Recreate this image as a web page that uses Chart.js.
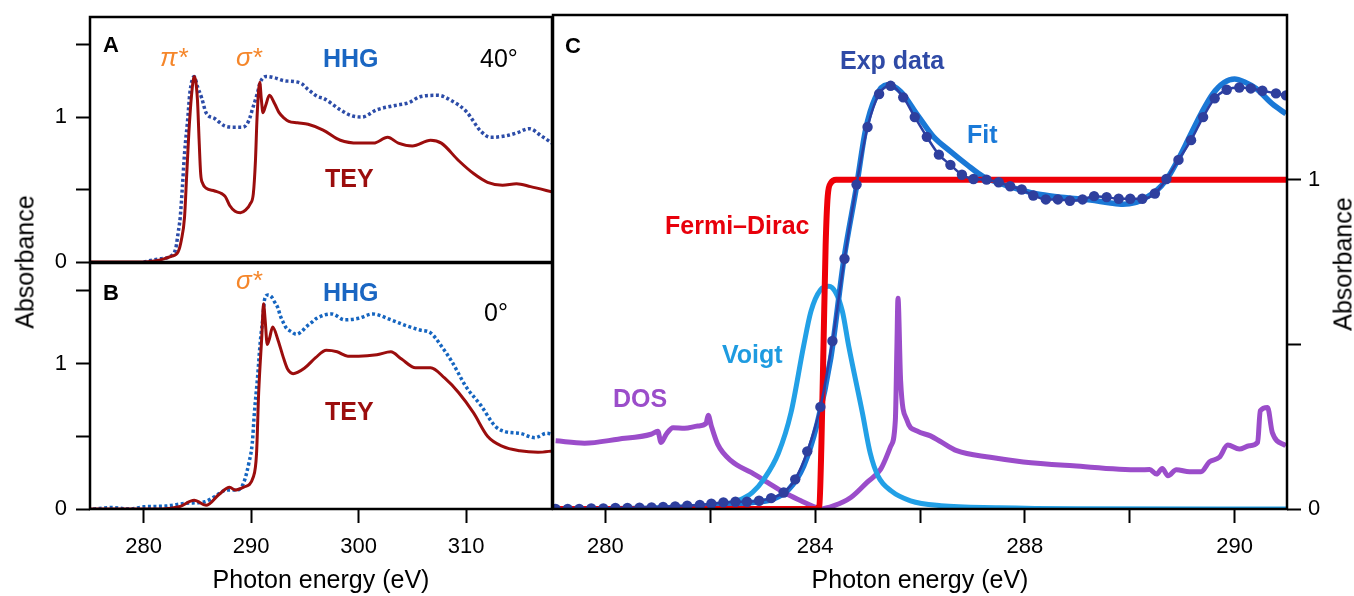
<!DOCTYPE html>
<html>
<head>
<meta charset="utf-8">
<script src="https://cdn.jsdelivr.net/npm/chart.js@4.4.1/dist/chart.umd.min.js"></script>
<style>
    body { margin: 0; background: #fff; width: 1354px; height: 596px; position: relative; overflow: hidden;
           font-family: "Liberation Sans", Arial, sans-serif; }
    canvas { position: absolute; }
    .lbl { position: absolute; line-height: 1; white-space: nowrap; transform: translateY(-50%); font-size: 25px; }
    .b { font-weight: bold; }
    .it { font-style: italic; color: #f5862a; font-size: 26px; }
    .ytitle { position: absolute; font-size: 25px; line-height: 1; white-space: nowrap;
              transform: translate(-50%, -50%) rotate(-90deg); }
</style>
</head>
<body>
<canvas id="chartA" width="553" height="290" style="left:0;top:0"></canvas>
<canvas id="chartB" width="553" height="356" style="left:0;top:240px"></canvas>
<canvas id="chartC" width="814" height="596" style="left:540px;top:0"></canvas>

<div class="ytitle" style="left:25px;top:262px">Absorbance</div>
<div class="ytitle" style="left:1343px;top:264px">Absorbance</div>

<!-- panel A labels -->
<div class="lbl b" style="left:103px;top:45px;font-size:22px">A</div>
<div class="lbl it" style="left:160px;top:57px">π*</div>
<div class="lbl it" style="left:236px;top:57px">σ*</div>
<div class="lbl b" style="left:323px;top:58px;color:#1a66c2">HHG</div>
<div class="lbl" style="left:480px;top:58px">40°</div>
<div class="lbl b" style="left:325px;top:178px;color:#9b0d0d">TEY</div>

<!-- panel B labels -->
<div class="lbl b" style="left:103px;top:293px;font-size:22px">B</div>
<div class="lbl it" style="left:236px;top:280px">σ*</div>
<div class="lbl b" style="left:323px;top:292px;color:#1a66c2">HHG</div>
<div class="lbl" style="left:484px;top:312px">0°</div>
<div class="lbl b" style="left:325px;top:411px;color:#9b0d0d">TEY</div>

<!-- panel C labels -->
<div class="lbl b" style="left:565px;top:46px;font-size:22px">C</div>
<div class="lbl b" style="left:840px;top:60px;color:#2f4aa6">Exp data</div>
<div class="lbl b" style="left:967px;top:134px;color:#1a7ad8">Fit</div>
<div class="lbl b" style="left:665px;top:225px;color:#e8000b">Fermi–Dirac</div>
<div class="lbl b" style="left:722px;top:354px;color:#1e9be0">Voigt</div>
<div class="lbl b" style="left:613px;top:398px;color:#9b4dca">DOS</div>

<script>
// ---- data: [photon energy, absorbance] ----
const aTey = [[275,0],[280,0],[280.8,0.005],[281.8,0.02],[282.6,0.04],[283.2,0.07],[283.5,0.15],[283.8,0.31],
    [284.0,0.6],[284.2,0.89],[284.45,1.15],[284.7,1.28],[285.0,1.12],[285.15,0.85],[285.3,0.61],[285.5,0.54],
    [285.8,0.51],[286.6,0.49],[287.3,0.47],[287.6,0.45],[288.0,0.39],[288.5,0.35],[289.0,0.34],[289.5,0.36],
    [289.9,0.4],[290.2,0.47],[290.4,0.7],[290.55,1.0],[290.8,1.24],[290.95,1.12],[291.1,1.03],[291.35,1.08],
    [291.7,1.15],[292.2,1.09],[292.6,1.03],[293.1,0.99],[293.5,0.97],[294.3,0.96],[295.3,0.95],[296.7,0.91],
    [298.3,0.84],[300,0.82],[301.4,0.82],[302.7,0.86],[303.7,0.82],[305,0.8],[306.7,0.84],[307.7,0.82],
    [309.3,0.7],[310.7,0.61],[312,0.55],[313.4,0.53],[314.7,0.54],[316,0.52],[318.2,0.48]];

const aHhg = [[280,0],[281.3,0.02],[282.7,0.05],[283.0,0.1],[283.2,0.2],[283.4,0.31],[283.6,0.52],[283.8,0.75],
    [284.1,0.99],[284.3,1.17],[284.7,1.28],[285.0,1.21],[285.4,1.13],[285.8,1.03],[286.6,0.99],[287.5,0.94],
    [288.3,0.93],[289.2,0.93],[289.6,0.95],[289.9,1.0],[290.1,1.05],[290.4,1.12],[290.6,1.17],[290.8,1.23],
    [291.1,1.27],[291.4,1.28],[292.2,1.27],[293.1,1.25],[294.0,1.245],[294.7,1.23],[295.3,1.19],[296.2,1.14],
    [296.7,1.13],[298.3,1.05],[299.3,1.01],[300.3,1.0],[301.7,1.05],[303.4,1.08],[304.7,1.1],[305.7,1.14],
    [307.4,1.15],[308.7,1.11],[310,1.04],[311.4,0.9],[312.3,0.86],[313.7,0.87],[314.7,0.89],[315.9,0.92],
    [317,0.87],[318.2,0.81]];

const bTey = [[275,0],[278.3,0],[281.7,0],[283.3,0.015],[284.7,0.06],[285.8,0.025],[287,0.1],[288,0.15],
    [288.5,0.13],[289.3,0.15],[290.2,0.22],[290.5,0.38],[290.7,0.8],[291.0,1.2],[291.15,1.41],[291.3,1.3],
    [291.5,1.13],[291.7,1.17],[292.0,1.25],[292.5,1.16],[293.0,1.04],[293.4,0.96],[293.9,0.93],[295,0.97],
    [296,1.04],[297,1.09],[298,1.08],[299,1.05],[300,1.05],[301.7,1.06],[303,1.08],[304,1.03],[305.3,0.97],
    [306.7,0.97],[308,0.9],[309.3,0.8],[310.7,0.66],[312,0.5],[313.4,0.43],[315,0.4],[316.7,0.39],[318.2,0.4]];

const bHhg = [[275.3,0],[277,0.01],[278.7,0],[280,0.015],[282,0.02],[284,0.04],[285.7,0.05],[286.7,0.09],
    [287.7,0.13],[288.7,0.13],[289.3,0.18],[289.8,0.32],[290.1,0.45],[290.3,0.66],[290.6,0.91],[290.85,1.15],
    [291.1,1.32],[291.25,1.44],[291.56,1.47],[291.87,1.46],[292.2,1.42],[292.5,1.38],[292.7,1.33],[293.0,1.28],
    [293.3,1.24],[293.7,1.22],[294.2,1.2],[294.7,1.22],[295.1,1.25],[295.6,1.28],[296.1,1.31],[297.5,1.34],
    [298.7,1.3],[300,1.31],[301.3,1.34],[303,1.3],[304.4,1.26],[305.7,1.23],[306.7,1.21],[307.7,1.12],
    [308.7,1.01],[310,0.84],[311.4,0.71],[312.7,0.57],[313.7,0.53],[315,0.52],[316.4,0.49],[317.5,0.52],
    [318.2,0.51]];

// panel C uses an evenly spaced axis; tick 292 carries the label "290" as in the original
const cExp = [[279.05,0],[279.28,0],[279.5,0],[279.73,0.002],[279.96,0.002],[280.19,0.003],[280.42,0.003],
    [280.65,0.004],[280.88,0.005],[281.1,0.006],[281.33,0.008],[281.56,0.01],[281.8,0.012],[282.02,0.016],
    [282.25,0.02],[282.48,0.022],[282.7,0.022],[282.93,0.025],[283.16,0.033],[283.4,0.05],[283.62,0.09],
    [283.85,0.175],[284.1,0.31],[284.33,0.51],[284.56,0.76],[284.79,0.985],[285.0,1.16],[285.22,1.26],
    [285.44,1.285],[285.68,1.25],[285.9,1.19],[286.13,1.13],[286.36,1.076],[286.58,1.045],[286.8,1.015],
    [287.02,1.002],[287.27,1.0],[287.5,0.992],[287.72,0.98],[287.94,0.97],[288.16,0.952],[288.4,0.94],
    [288.63,0.94],[288.86,0.936],[289.1,0.94],[289.32,0.95],[289.56,0.947],[289.79,0.942],[290.01,0.942],
    [290.24,0.942],[290.48,0.958],[290.7,1.002],[290.93,1.06],[291.17,1.12],[291.4,1.19],[291.62,1.247],
    [291.85,1.273],[292.09,1.28],[292.31,1.277],[292.53,1.27],[292.79,1.262],[292.98,1.256]];

const cFit = [[279,0],[281,0.003],[282,0.01],[282.8,0.02],[283.2,0.03],[283.5,0.06],[283.78,0.13],[284.04,0.26],
    [284.3,0.46],[284.55,0.76],[284.79,0.98],[284.96,1.15],[285.15,1.25],[285.37,1.288],[285.63,1.268],
    [285.95,1.197],[286.26,1.13],[286.58,1.086],[286.9,1.045],[287.2,1.01],[287.5,0.99],[287.9,0.97],
    [288.3,0.955],[288.8,0.945],[289.25,0.938],[289.6,0.93],[289.87,0.925],[290.1,0.93],[290.3,0.945],
    [290.5,0.965],[290.7,1.0],[290.92,1.06],[291.14,1.13],[291.36,1.2],[291.58,1.26],[291.8,1.295],
    [292.0,1.306],[292.2,1.296],[292.41,1.277],[292.72,1.23],[292.98,1.2]];

const cFermi = [[279,0],[284.0,0],[284.08,0.01],[284.12,0.2],[284.16,0.5],[284.2,0.8],[284.24,0.95],
    [284.3,0.99],[284.4,1.0],[293,1.0]];

const cVoigt = [[279,0],[281,0.002],[281.8,0.008],[282.3,0.015],[282.52,0.025],[282.8,0.05],[283.02,0.09],
    [283.3,0.17],[283.54,0.293],[283.78,0.495],[283.92,0.6],[284.1,0.665],[284.26,0.676],[284.4,0.655],
    [284.52,0.6],[284.64,0.495],[284.9,0.293],[285.05,0.17],[285.2,0.1],[285.45,0.055],[285.82,0.025],
    [286.4,0.01],[287.5,0.004],[289,0.001],[293,0]];

const cDos = [[279.05,0.207],[279.6,0.2],[280.24,0.212],[280.87,0.227],[281.0,0.236],[281.06,0.202],
    [281.16,0.227],[281.29,0.247],[281.51,0.245],[281.76,0.252],[281.92,0.26],[281.96,0.285],[282.02,0.252],
    [282.14,0.197],[282.4,0.146],[282.78,0.111],[283.09,0.081],[283.41,0.05],[283.73,0.025],[283.98,0.007],
    [284.1,0],[284.36,0.01],[284.68,0.035],[284.99,0.081],[285.25,0.121],[285.44,0.19],[285.53,0.27],
    [285.56,0.495],[285.58,0.64],[285.63,0.39],[285.75,0.27],[285.94,0.237],[286.2,0.222],[286.39,0.205],
    [286.7,0.177],[287.34,0.157],[287.97,0.143],[288.92,0.131],[290.19,0.119],[290.38,0.12],[290.51,0.106],
    [290.62,0.123],[290.73,0.101],[290.89,0.119],[291.14,0.113],[291.36,0.113],[291.52,0.143],[291.71,0.157],
    [291.87,0.194],[292.09,0.182],[292.28,0.192],[292.44,0.202],[292.49,0.298],[292.63,0.308],[292.72,0.232],
    [292.98,0.192]];

// ---- ticks ----
const abTickValues = [280, 290, 300, 310];
const abYTicks = [0, 0.5, 1, 1.5];
const abYLabels = ['0', '', '1', ''];
const cTickValues = [280, 282, 284, 286, 288, 290, 292];
const cTickLabels = ['280', '', '284', '', '288', '', '290'];
const cYTicks = [0, 0.5, 1];
const cYLabels = ['0', '', '1'];

const FONT = '"Liberation Sans", Arial, sans-serif';
const TICK_SIZE = 22;

function pts(arr) {
    return arr.map(function (p) { return { x: p[0], y: p[1] }; });
}

// black frame around each plot area
const framePlugin = {
    id: 'frame',
    afterDatasetsDraw: function (chart) {
        const a = chart.chartArea;
        const ctx = chart.ctx;
        ctx.save();
        ctx.strokeStyle = '#000';
        ctx.lineWidth = 2.5;
        ctx.strokeRect(a.left, a.top, a.right - a.left, a.bottom - a.top);
        ctx.restore();
    }
};

function tickGrid() {
    return { drawOnChartArea: false, drawTicks: true, tickLength: 14, tickWidth: 2, tickColor: '#000', color: '#000' };
}

function fixedTicks(values) {
    return function (scale) {
        scale.ticks = values.map(function (v) { return { value: v }; });
    };
}

function labelFrom(values, labels) {
    return function (v) {
        const i = values.indexOf(v);
        return i >= 0 ? labels[i] : '';
    };
}

function yAxisAB() {
    return {
        min: 0, max: 1.69,
        border: { display: false },
        grid: tickGrid(),
        afterBuildTicks: fixedTicks(abYTicks),
        afterFit: function (s) { s.width = 90; s.paddingTop = 0; s.paddingBottom = 0; },
        ticks: { color: '#000', padding: 9, font: { family: FONT, size: TICK_SIZE }, callback: labelFrom(abYTicks, abYLabels) }
    };
}

function lineSet(data, color, width, extra) {
    return Object.assign({
        data: pts(data),
        borderColor: color,
        borderWidth: width,
        pointRadius: 0,
        fill: false,
        cubicInterpolationMode: 'monotone'
    }, extra || {});
}

const baseOpts = {
    responsive: false,
    animation: false,
    plugins: { legend: { display: false }, tooltip: { enabled: false } }
};

// Panel A
new Chart(document.getElementById('chartA'), {
    type: 'line',
    data: {
        datasets: [
            lineSet(aTey, '#9b0d0d', 3),
            lineSet(aHhg, '#2c4ca8', 3.5, { borderDash: [3, 2.5] })
        ]
    },
    options: Object.assign({}, baseOpts, {
        layout: { padding: { top: 17, right: 1, bottom: 28, left: 0 } },
        scales: {
            x: { type: 'linear', min: 275, max: 318, display: false },
            y: yAxisAB()
        }
    }),
    plugins: [framePlugin]
});

// Panel B
new Chart(document.getElementById('chartB'), {
    type: 'line',
    data: {
        datasets: [
            lineSet(bTey, '#9b0d0d', 3),
            lineSet(bHhg, '#1565c0', 3.5, { borderDash: [3, 2.5] })
        ]
    },
    options: Object.assign({}, baseOpts, {
        layout: { padding: { top: 23, right: 1, bottom: 0, left: 0 } },
        scales: {
            x: {
                type: 'linear', min: 275, max: 318,
                border: { display: false },
                grid: tickGrid(),
                afterBuildTicks: fixedTicks(abTickValues),
                afterFit: function (s) { s.height = 87; s.paddingLeft = 0; s.paddingRight = 0; },
                ticks: { color: '#000', padding: 11, maxRotation: 0, font: { family: FONT, size: TICK_SIZE } },
                title: { display: true, text: 'Photon energy (eV)', color: '#000', padding: 0, font: { family: FONT, size: 25 } }
            },
            y: yAxisAB()
        }
    }),
    plugins: [framePlugin]
});

// Panel C
new Chart(document.getElementById('chartC'), {
    type: 'line',
    data: {
        datasets: [
            lineSet(cExp, '#2b3fa3', 2.5, { pointRadius: 5.2, pointBackgroundColor: '#2e3f9e', pointBorderWidth: 0 }),
            lineSet(cFermi, '#ee0008', 6),
            lineSet(cFit, '#1a78d6', 5.5),
            lineSet(cVoigt, '#22a0e6', 5),
            lineSet(cDos, '#9b4dca', 5)
        ]
    },
    options: Object.assign({}, baseOpts, {
        layout: { padding: { top: 15, right: 0, bottom: 0, left: 13 } },
        scales: {
            x: {
                type: 'linear', min: 279, max: 293,
                border: { display: false },
                grid: tickGrid(),
                afterBuildTicks: fixedTicks(cTickValues),
                afterFit: function (s) { s.height = 87; s.paddingLeft = 0; s.paddingRight = 0; },
                ticks: { color: '#000', padding: 11, maxRotation: 0, autoSkip: false, font: { family: FONT, size: TICK_SIZE },
                         callback: labelFrom(cTickValues, cTickLabels) },
                title: { display: true, text: 'Photon energy (eV)', color: '#000', padding: 0, font: { family: FONT, size: 25 } }
            },
            y: {
                position: 'right',
                min: 0, max: 1.5,
                border: { display: false },
                grid: tickGrid(),
                afterBuildTicks: fixedTicks(cYTicks),
                afterFit: function (s) { s.width = 67; s.paddingTop = 0; s.paddingBottom = 0; },
                ticks: { color: '#000', padding: 7, font: { family: FONT, size: TICK_SIZE }, callback: labelFrom(cYTicks, cYLabels) }
            }
        }
    }),
    plugins: [framePlugin]
});
</script>
</body>
</html>
